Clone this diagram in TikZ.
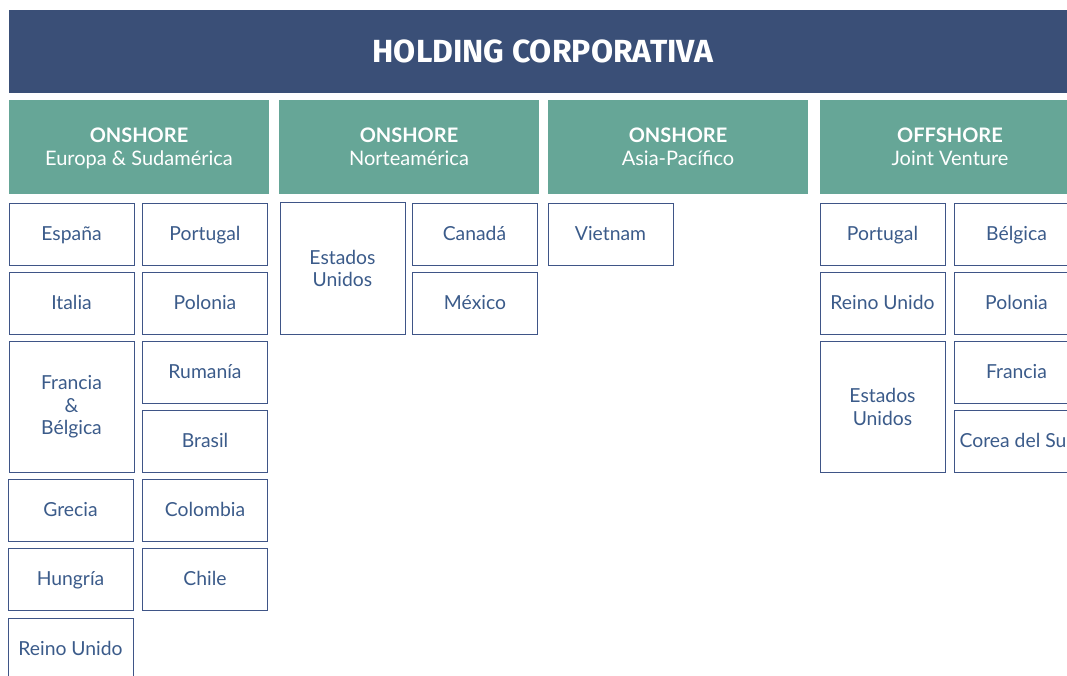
\documentclass[tikz,border=0pt]{standalone}
\usepackage{fontspec}
\setmainfont{Lato}
\newfontfamily\titlefont{Fira Sans}
\definecolor{navy}{HTML}{3A4F77}
\definecolor{teal}{HTML}{66A697}
\definecolor{txtblue}{HTML}{3B5B8A}
\definecolor{boxline}{HTML}{3F5587}
\begin{document}
\begin{tikzpicture}[x=0.75pt,y=-0.75pt,
  title/.style={fill=navy, draw=none, minimum width=801pt, minimum height=62.25pt, inner sep=0pt,
    text=white, font=\titlefont\bfseries\fontsize{24}{28}\selectfont},
  region/.style={fill=teal, draw=none, minimum width=195pt, minimum height=70.5pt, inner sep=0pt,
    text=white, align=center, font=\fontsize{15}{17.5}\selectfont},
  boxbase/.style={draw=boxline, line width=0.6pt, fill=white, minimum width=93.75pt,
    inner sep=0pt, text=txtblue, align=center, font=\fontsize{14.5}{17}\selectfont},
  cbox/.style={boxbase, minimum height=46.5pt, text height=10.4pt, text depth=0pt},
  tallbox/.style={boxbase, minimum height=98.5pt}]
\useasboundingbox (0,0) rectangle (1067,675);
\clip (0,0) rectangle (1067,675);
\node[title] (hold) at (543,51.5) {HOLDING CORPORATIVA};
\node[region] (r1) at (139,146.5) {\rule{0pt}{16pt}\textbf{ONSHORE}\\Europa \& Sudamérica\strut};
\node[region] (r2) at (409,146.5) {\rule{0pt}{16pt}\textbf{ONSHORE}\\Norteamérica\strut};
\node[region] (r3) at (678,146.5) {\rule{0pt}{16pt}\textbf{ONSHORE}\\Asia-Pacífico\strut};
\node[region] (r4) at (950,146.5) {\rule{0pt}{16pt}\textbf{OFFSHORE}\\Joint Venture\strut};
% column 1
\node[cbox] (es) at (71.5,234) {España};
\node[cbox] (pt) at (205,234) {Portugal};
\node[cbox] (it) at (71.5,303) {Italia};
\node[cbox] (pl) at (205,303) {Polonia};
\node[tallbox] (fr) at (71.5,407) {Francia\\\&\\Bélgica};
\node[cbox] (ro) at (205,372) {Rumanía};
\node[cbox] (br) at (205,441) {Brasil};
\node[cbox] (gr) at (70.5,510) {Grecia};
\node[cbox] (co) at (205,510) {Colombia};
\node[cbox] (hu) at (70.5,579) {Hungría};
\node[cbox] (cl) at (205,579) {Chile};
\node[cbox] (uk) at (70.5,649) {Reino Unido};
% column 2
\node[tallbox] (us) at (342.5,268.5) {Estados\\Unidos};
\node[cbox] (ca) at (474.5,234) {Canadá};
\node[cbox] (mx) at (475,303) {México};
% column 3
\node[cbox] (vn) at (610.5,234) {Vietnam};
% column 4
\node[cbox] (jpt) at (882.5,234) {Portugal};
\node[cbox] (jbe) at (1016.5,234) {Bélgica};
\node[cbox] (juk) at (882.5,303) {Reino Unido};
\node[cbox] (jpl) at (1016.5,303) {Polonia};
\node[tallbox] (jus) at (882.5,407) {Estados\\Unidos};
\node[cbox] (jfr) at (1016.5,372) {Francia};
\node[cbox] (jkr) at (1016.5,441) {Corea del Sur};
\end{tikzpicture}
\end{document}
